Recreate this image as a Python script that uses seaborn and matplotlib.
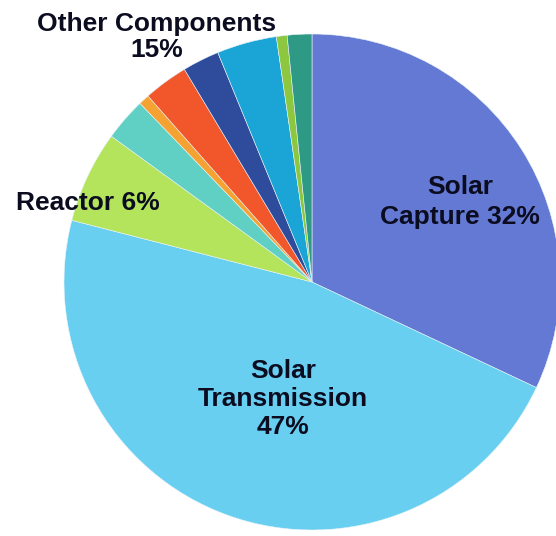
import matplotlib
matplotlib.use("Agg")
import matplotlib.pyplot as plt
import seaborn as sns

sns.set_theme(style="white")
plt.rcParams["font.family"] = ["Liberation Sans", "DejaVu Sans"]

# Cost breakdown (percent of total); the last seven slices make up "Other Components"
segments = ["Solar Capture", "Solar Transmission", "Reactor",
            "Other A", "Other B", "Other C", "Other D", "Other E", "Other F", "Other G"]
shares = [32, 47, 6, 2.8, 0.7, 2.9, 2.4, 3.9, 0.7, 1.6]
colors = ["#6479D3", "#68CFF1", "#B4E35C",
          "#60D0C4", "#F6A232", "#F1572B", "#2F4B9B", "#1AA5D6", "#8DC63F", "#2E9A86"]

# Labels for the main groups
main_labels = ["Solar\nCapture 32%", "Solar\nTransmission\n47%", "Reactor 6%",
               "Other Components\n15%"]

W, H = 556, 536
fig = plt.figure(figsize=(W / 100, H / 100), dpi=100)
cx, cy, r = 312, 282, 248  # pie centre and radius in pixels
ax = fig.add_axes([(cx - r) / W, (H - cy - r) / H, 2 * r / W, 2 * r / H])

wedges, _ = ax.pie(shares, colors=colors, startangle=90, counterclock=False,
                   radius=1.0, wedgeprops=dict(linewidth=0.4, edgecolor="#e8f4f8"))
ax.set_xlim(-1, 1)
ax.set_ylim(-1, 1)
ax.set_aspect("equal")
ax.axis("off")


def px(x, y):
    return (x - cx) / r, (cy - y) / r


txt = dict(fontsize=19, fontweight="bold", color="#0b0c1f", ha="center", va="center",
           clip_on=False)
ax.text(*px(460, 202), main_labels[0], linespacing=1.3, **txt)
ax.text(*px(283, 399), main_labels[1], linespacing=1.2, **txt)
ax.text(*px(88, 203), main_labels[2], **txt)
ax.text(*px(157, 37), main_labels[3], linespacing=1.1, **txt)

fig.savefig("out.png", dpi=100, facecolor="white")
